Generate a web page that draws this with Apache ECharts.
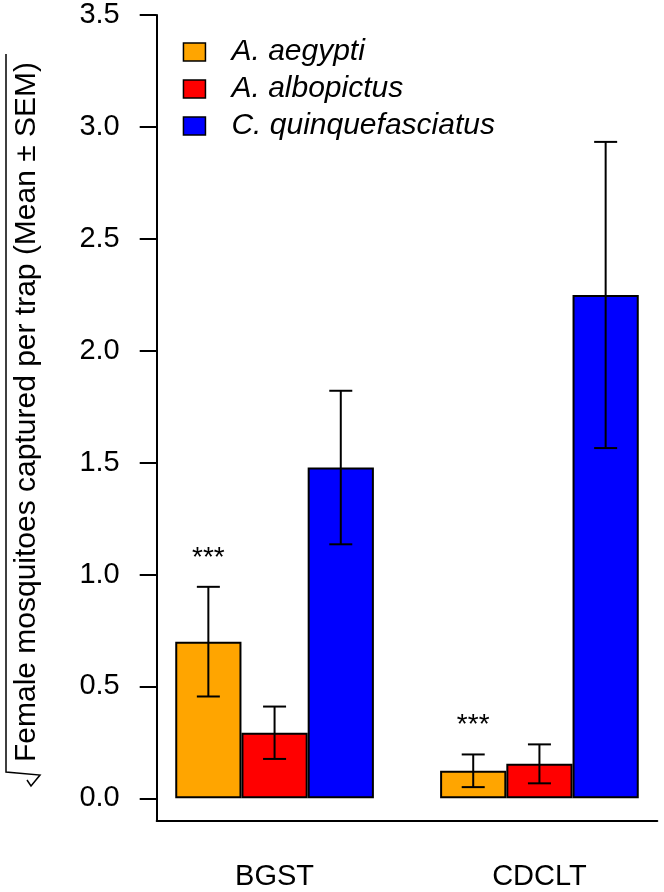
<!DOCTYPE html>
<html><head><meta charset="utf-8">
<script src="https://cdn.jsdelivr.net/npm/echarts@6/dist/echarts.min.js"></script>
<style>html,body{margin:0;padding:0;background:#fff}#c{width:664px;height:892px}</style>
</head><body><div id="c"></div>
<script>
const categories = ['BGST', 'CDCLT'];
const species = ['A. aegypti', 'A. albopictus', 'C. quinquefasciatus'];
const meanAegypti = [0.70, 0.123];
const semAegypti = [0.245, 0.073];
const meanAlbopictus = [0.293, 0.154];
const semAlbopictus = [0.117, 0.087];
const meanQuinque = [1.478, 2.249];
const semQuinque = [0.343, 0.684];
const sigAegypti = ['***', '***'];
const sigAlbopictus = ['', ''];
const sigQuinque = ['', ''];
const yTicks = [0, 0.5, 1.0, 1.5, 2.0, 2.5, 3.0, 3.5];
const yTitle = 'Female mosquitoes captured per trap (Mean \u00b1 SEM)';

const colors = ['#FFA500', '#FF0000', '#0000FF'];
const means = [meanAegypti, meanAlbopictus, meanQuinque];
const sems = [semAegypti, semAlbopictus, semQuinque];
const sigs = [sigAegypti, sigAlbopictus, sigQuinque];
const FONT = 'Liberation Sans, Arial, sans-serif';

// R barplot(beside=TRUE) layout: each group = 3 bars of width 1, preceded by 1 space
const nS = species.length;
const groupX = categories.map((c, i) => 1 + i * (nS + 1) + nS / 2);
const xFirst = 1, xLast = categories.length * (nS + 1);
const ext = (xLast - xFirst) * 0.04;

const barSeries = species.map((name, s) => ({
  name: name,
  type: 'bar',
  barWidth: (100 / (nS + 1)) + '%',
  barGap: '0%',
  itemStyle: { color: colors[s], borderColor: '#000', borderWidth: 2 },
  emphasis: { disabled: true },
  data: categories.map((c, i) => [groupX[i], means[s][i]])
}));

const errSeries = species.map((name, s) => ({
  type: 'custom',
  z: 5,
  silent: true,
  data: categories.map((c, i) => [groupX[i], means[s][i], sems[s][i]]),
  renderItem: function (params, api) {
    const x = api.value(0), m = api.value(1), e = api.value(2);
    const unit = api.size([1, 0])[0];
    const off = (s - (nS - 1) / 2) * unit;
    const top = api.coord([x, m + e]);
    const bot = api.coord([x, m - e]);
    const cx = top[0] + off;
    const cap = 11.5;
    const ls = { stroke: '#000', lineWidth: 2 };
    const children = [
      { type: 'line', shape: { x1: cx, y1: top[1], x2: cx, y2: bot[1] }, style: ls },
      { type: 'line', shape: { x1: cx - cap, y1: top[1], x2: cx + cap, y2: top[1] }, style: ls },
      { type: 'line', shape: { x1: cx - cap, y1: bot[1], x2: cx + cap, y2: bot[1] }, style: ls }
    ];
    const sg = sigs[s][params.dataIndex];
    if (sg) {
      children.push({ type: 'text', style: { text: sg, x: cx, y: top[1] - 29, fill: '#000',
        font: '28px ' + FONT, align: 'center', verticalAlign: 'middle' } });
    }
    return { type: 'group', children: children };
  }
}));

const chart = echarts.init(document.getElementById('c'), null, { renderer: 'canvas' });
chart.setOption({
  animation: false,
  backgroundColor: '#fff',
  grid: { left: 156.7, right: 6.7, top: 15, bottom: 71.3, containLabel: false },
  legend: {
    data: species,
    orient: 'vertical',
    left: 182.7,
    top: 37,
    padding: 0,
    itemWidth: 22,
    itemHeight: 18,
    itemGap: 7,
    icon: 'rect',
    selectedMode: false,
    itemStyle: { borderColor: '#000', borderWidth: 1.5 },
    textStyle: { fontFamily: FONT, fontSize: 30, fontStyle: 'italic', color: '#000', padding: [0, 0, 0, 21] }
  },
  xAxis: {
    type: 'value',
    min: xFirst - ext,
    max: xLast + ext,
    axisLine: { show: true, onZero: false, lineStyle: { color: '#000', width: 2 } },
    axisTick: { show: false },
    splitLine: { show: false },
    axisLabel: {
      customValues: groupX,
      formatter: v => categories[groupX.indexOf(v)] || '',
      fontFamily: FONT, fontSize: 29, color: '#000', margin: 42
    }
  },
  yAxis: {
    type: 'value',
    min: -0.1,
    max: 3.5,
    axisLine: { show: true, onZero: false, lineStyle: { color: '#000', width: 2 } },
    axisTick: { show: true, customValues: yTicks, length: 17, lineStyle: { color: '#000', width: 2 } },
    splitLine: { show: false },
    axisLabel: {
      customValues: yTicks,
      formatter: v => v.toFixed(1),
      fontFamily: FONT, fontSize: 29, color: '#000', margin: 37
    }
  },
  graphic: [
    { type: 'text', x: 27, y: 412, rotation: Math.PI / 2, silent: true,
      style: { text: yTitle, fill: '#000', font: '30px ' + FONT, align: 'center', verticalAlign: 'middle',
               textAlign: 'center', textVerticalAlign: 'middle' } },
    { type: 'polyline', silent: true,
      shape: { points: [[6, 54], [6, 772], [40, 775], [31, 786], [27, 780]] },
      style: { stroke: '#000', lineWidth: 1.5, fill: null } }
  ],
  series: barSeries.concat(errSeries)
});
</script>
</body></html>
